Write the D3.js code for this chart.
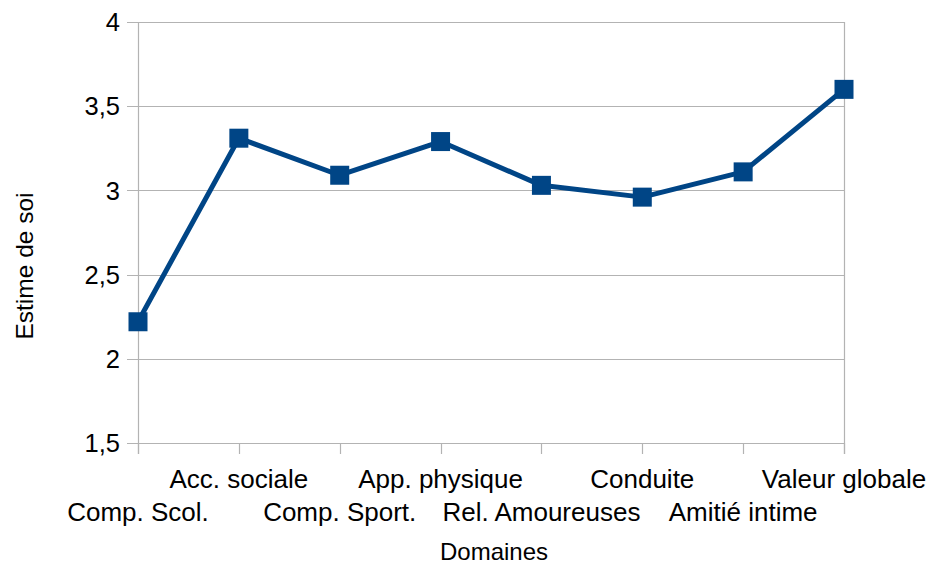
<!DOCTYPE html>
<html>
<head>
<meta charset="utf-8">
<script src="https://cdn.jsdelivr.net/npm/d3@7"></script>
<style>
	body { margin: 0; background: #fff; }
	svg { font-family: "Liberation Sans", Arial, sans-serif; }
</style>
</head>
<body>
<div id="chart"></div>
<script>
// data
const domaines = ["Comp. Scol.", "Acc. sociale", "Comp. Sport.", "App. physique", "Rel. Amoureuses", "Conduite", "Amitié intime", "Valeur globale"]
const estime = [2.22, 3.31, 3.09, 3.29, 3.03, 2.96, 3.11, 3.60]
const yTicks = [1.5, 2, 2.5, 3, 3.5, 4]

const width = 931
const height = 564
const margin = { top: 22, right: 87, bottom: 121, left: 138 }

const svg = d3.select("#chart")
	.append("svg")
	.attr("width", width)
	.attr("height", height)

const x = d3.scalePoint()
	.domain(domaines)
	.range([margin.left, width - margin.right])

const y = d3.scaleLinear()
	.domain([1.5, 4])
	.range([height - margin.bottom, margin.top])

const grid = "#b3b3b3"

// horizontal gridlines + left ticks
svg.append("g")
	.selectAll("line")
	.data(yTicks)
	.enter()
	.append("line")
	.attr("x1", margin.left - 11)
	.attr("x2", width - margin.right)
	.attr("y1", (d) => Math.round(y(d)) + 0.5)
	.attr("y2", (d) => Math.round(y(d)) + 0.5)
	.attr("stroke", grid)
	.attr("stroke-width", 1.2)

// y tick labels
svg.append("g")
	.selectAll("text")
	.data(yTicks)
	.enter()
	.append("text")
	.attr("x", margin.left - 18)
	.attr("y", (d) => y(d))
	.attr("dy", "0.36em")
	.attr("text-anchor", "end")
	.attr("font-size", 25.5)
	.text((d) => String(d).replace(".", ","))

// left and right vertical lines
svg.append("line")
	.attr("x1", margin.left + 0.5).attr("x2", margin.left + 0.5)
	.attr("y1", margin.top).attr("y2", y(1.5) + 11)
	.attr("stroke", grid).attr("stroke-width", 1.2)
svg.append("line")
	.attr("x1", width - margin.right + 0.5).attr("x2", width - margin.right + 0.5)
	.attr("y1", margin.top).attr("y2", y(1.5) + 11)
	.attr("stroke", grid).attr("stroke-width", 1.2)

// x ticks below axis
svg.append("g")
	.selectAll("line")
	.data(domaines)
	.enter()
	.append("line")
	.attr("x1", (d) => Math.round(x(d)) + 0.5)
	.attr("x2", (d) => Math.round(x(d)) + 0.5)
	.attr("y1", y(1.5))
	.attr("y2", y(1.5) + 11)
	.attr("stroke", grid)
	.attr("stroke-width", 1.2)

// x labels, staggered on two rows
svg.append("g")
	.selectAll("text")
	.data(domaines)
	.enter()
	.append("text")
	.attr("x", (d) => x(d))
	.attr("y", (d, i) => (i % 2 === 0 ? 521 : 488))
	.attr("text-anchor", "middle")
	.attr("font-size", 26)
	.text((d) => d)

// axis titles
svg.append("text")
	.attr("x", 494)
	.attr("y", 560)
	.attr("text-anchor", "middle")
	.attr("font-size", 24)
	.text("Domaines")

svg.append("text")
	.attr("transform", "translate(33, 266) rotate(-90)")
	.attr("text-anchor", "middle")
	.attr("font-size", 24.5)
	.text("Estime de soi")

// line + square markers
const blue = "#004586"
const line = d3.line()
	.x((d, i) => x(domaines[i]))
	.y((d) => y(d))

svg.append("path")
	.datum(estime)
	.attr("d", line)
	.attr("fill", "none")
	.attr("stroke", blue)
	.attr("stroke-width", 5)
	.attr("stroke-linejoin", "round")

const size = 19
svg.append("g")
	.selectAll("rect")
	.data(estime)
	.enter()
	.append("rect")
	.attr("x", (d, i) => x(domaines[i]) - size / 2)
	.attr("y", (d) => y(d) - size / 2)
	.attr("width", size)
	.attr("height", size)
	.attr("fill", blue)
</script>
</body>
</html>
